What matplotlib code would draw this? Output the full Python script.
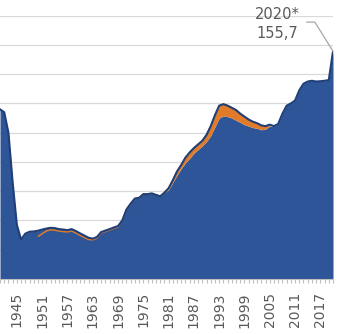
import matplotlib
matplotlib.use("Agg")
import matplotlib.pyplot as plt
import numpy as np

# ---- data -------------------------------------------------------------
years = list(range(1941, 2021))

# main series (blue area)
blue_vals = [
    116, 114, 100, 66, 37, 27, 31, 32.3, 32.5,            # 1941-1949
    33, 33.8, 34.5, 35, 34.8, 34.1, 33.8, 33.4, 34.1, 32.8,  # 1950-1959
    31.2, 29.7, 28.2, 27.6, 28.7, 32.1, 33.1, 34.1, 35.2, 36.2,  # 1960-1969
    40, 47.5, 51.5, 55, 55.5, 58, 58, 58.5, 57.5, 56.5,   # 1970-1979
    59, 61, 66, 71, 75.5, 79.5, 82.5, 86, 88.5, 91,       # 1980-1989
    94, 98, 104, 110, 111.5, 111, 110, 108.5, 107, 105.5,  # 1990-1999
    104.5, 103.5, 103, 102, 102.5, 104.5, 104.5, 106, 113, 118.5,  # 2000-2009
    120, 122, 129, 133.5, 135, 135.5, 135, 135.2, 135.5, 136,  # 2010-2019
    155.7,                                                # 2020
]

# second series (orange), 1950-2005
orange_years = list(range(1950, 2006))
orange_vals = [
    29.0, 31.0, 32.8, 33.6, 33.4, 32.8, 32.4, 32.2, 32.8, 31.4,   # 1950-1959
    29.9, 28.4, 27.0, 26.8, 28.0, 31.5, 32.5, 33.5, 34.6, 35.6,   # 1960-1969
    40.0, 47.5, 51.5, 55, 55.5, 58, 58, 58.5, 57.5, 56.5,         # 1970-1979
    59, 62, 67.5, 73.5, 78, 83, 86.5, 89.5, 92, 94.5,             # 1980-1989
    98.5, 104.5, 112, 118.5, 119.5, 118.5, 117, 115.5, 113, 111,  # 1990-1999
    109, 107.5, 106.5, 105, 104.5, 105.5,                         # 2000-2005
]

tick_years = list(range(1945, 2021, 6))
y_grid = list(range(0, 181, 20))

# ---- style ------------------------------------------------------------
BLUE = "#2E5597"
EDGE = "#1F3F78"
ORANGE = "#E07B2A"
GRID = "#D9D9D9"
TEXT = "#595959"

fig = plt.figure(figsize=(3.44, 3.34), dpi=100)
ax = fig.add_axes([0.0, 55 / 334, 333 / 344, (279 - 15.7) / 334])

yrs = np.array(years, dtype=float)
bv = np.array(blue_vals, dtype=float)
oy = np.array(orange_years, dtype=float)
ov = np.array(orange_vals, dtype=float)

# blue values on the orange years
bv_on_o = np.interp(oy, yrs, bv)

ax.fill_between(yrs, 0, bv, color=BLUE, lw=0, zorder=2)
ax.fill_between(oy, bv_on_o, ov, where=ov > bv_on_o, interpolate=True,
                color=ORANGE, lw=0, zorder=3)
ax.plot(oy, ov, color=ORANGE, lw=1.1, zorder=4, solid_capstyle="butt")

upper = bv.copy()
for yv, v in zip(orange_years, orange_vals):
    i = years.index(yv)
    upper[i] = max(upper[i], v)
ax.plot(yrs, upper, color=EDGE, lw=1.5, zorder=5)

# axes
ax.set_xlim(1941.1, 2020)
ax.set_ylim(0, 180)
ax.set_yticks(y_grid)
ax.yaxis.grid(True, color=GRID, lw=0.9, zorder=0)
ax.set_axisbelow(True)
ax.tick_params(axis="y", left=False, labelleft=False)

ax.set_xticks(tick_years)
ax.set_xticklabels([str(y) for y in tick_years], rotation=90, color=TEXT,
                   fontsize=10)
ax.set_xticks(years, minor=True)
ax.tick_params(axis="x", which="both", direction="out", length=3,
               color="#BFBFBF", width=0.8)
ax.tick_params(axis="x", which="major", pad=6.5)

for s in ["left", "right", "top"]:
    ax.spines[s].set_visible(False)
ax.spines["bottom"].set_color("#BFBFBF")
ax.spines["bottom"].set_linewidth(0.8)

# annotation for the last value
last_year = years[-1]
last_val = blue_vals[-1]
ax.text(2006.7, 181.0, f"{last_year}*", ha="center", va="center",
        color=TEXT, fontsize=10.5, clip_on=False, zorder=6)
ax.text(2006.7, 167.6, f"{last_val:.1f}".replace(".", ","), ha="center",
        va="center", color=TEXT, fontsize=10.5, clip_on=False, zorder=6)
ax.plot([2013.8, 2015.7, last_year], [175.6, 175.6, last_val],
        color="#A6A6A6", lw=0.9, clip_on=False, zorder=6)

fig.savefig("out.png", dpi=100)
